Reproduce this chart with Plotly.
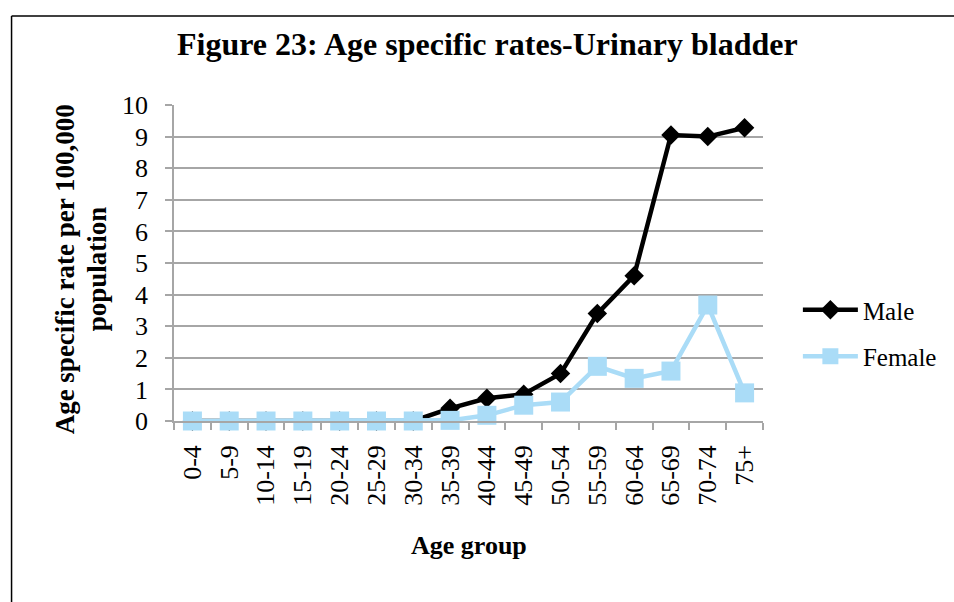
import plotly.graph_objects as go

age_groups = ["0-4", "5-9", "10-14", "15-19", "20-24", "25-29", "30-34", "35-39",
              "40-44", "45-49", "50-54", "55-59", "60-64", "65-69", "70-74", "75+"]
male = [0, 0, 0, 0, 0, 0, 0, 0.4, 0.72, 0.85, 1.5, 3.4, 4.6, 9.05, 9.0, 9.28]
female = [0, 0, 0, 0, 0, 0, 0, 0.02, 0.18, 0.5, 0.6, 1.73, 1.35, 1.58, 3.67, 0.89]

FONT = "Liberation Serif"
GRID = "#a6a6a6"
BLUE = "#aadcf7"

# plot area in pixels
W, H = 954, 602
ML, MR, MT, MB = 174, 189, 105, 181
PW, PH = W - ML - MR, H - MT - MB


def px_x(px):
    return (px - ML) / PW


def px_y(py):
    return (H - MB - py) / PH


fig = go.Figure()
fig.add_trace(go.Scatter(
    x=age_groups, y=male, name="Male", mode="lines+markers",
    line=dict(color="black", width=4.5),
    marker=dict(symbol="diamond", size=15, color="black"),
    cliponaxis=False, legendgroup="m",
))
fig.add_trace(go.Scatter(
    x=age_groups, y=female, name="Female", mode="lines+markers",
    line=dict(color=BLUE, width=4.5),
    marker=dict(symbol="square", size=19, color=BLUE),
    cliponaxis=False, legendgroup="f",
))

fig.update_layout(
    width=W, height=H,
    margin=dict(l=ML, r=MR, t=MT, b=MB),
    paper_bgcolor="white", plot_bgcolor="white",
    font=dict(family=FONT, color="black", size=26),
    showlegend=True,
    legend=dict(x=px_x(800), y=px_y(287), xanchor="left", yanchor="top",
                font=dict(size=25), traceorder="grouped", tracegroupgap=11,
                itemwidth=55, bgcolor="rgba(0,0,0,0)"),
    shapes=[
        dict(type="line", xref="paper", yref="paper",
             x0=px_x(11), x1=px_x(11), y0=px_y(16), y1=px_y(620),
             line=dict(color="black", width=1.5)),
        dict(type="line", xref="paper", yref="paper",
             x0=px_x(11), x1=px_x(970), y0=px_y(16), y1=px_y(16),
             line=dict(color="black", width=1.5)),
    ],
    annotations=[
        dict(text="<b>Figure 23: Age specific rates-Urinary bladder</b>",
             xref="paper", yref="paper", x=px_x(489), y=px_y(44),
             xanchor="center", yanchor="middle", showarrow=False,
             font=dict(size=32)),
        dict(text="<b>Age specific rate per 100,000</b>",
             xref="paper", yref="paper", x=px_x(65), y=px_y(269),
             xanchor="center", yanchor="middle", showarrow=False,
             textangle=-90, font=dict(size=27)),
        dict(text="<b>population</b>",
             xref="paper", yref="paper", x=px_x(97), y=px_y(269),
             xanchor="center", yanchor="middle", showarrow=False,
             textangle=-90, font=dict(size=27)),
        dict(text="<b>Age group</b>",
             xref="paper", yref="paper", x=px_x(470), y=px_y(545),
             xanchor="center", yanchor="middle", showarrow=False,
             font=dict(size=26)),
    ],
)

fig.update_xaxes(
    type="category", tickangle=-90, showgrid=False,
    showline=True, linecolor=GRID, linewidth=1.5,
    ticks="outside", tickson="boundaries", ticklen=7, tickcolor=GRID, tickwidth=1.5,
    tickfont=dict(size=26), range=[-0.5, len(age_groups) - 0.5],
    ticklabelstandoff=12,
)
fig.update_yaxes(
    range=[0, 10], dtick=1, showgrid=True, gridcolor=GRID, gridwidth=1.5,
    showline=True, linecolor=GRID, linewidth=1.5,
    ticks="outside", ticklen=7, tickcolor=GRID, tickwidth=1.5,
    tickfont=dict(size=26), zeroline=False, ticklabelstandoff=12,
)

fig.write_html("out.html")
